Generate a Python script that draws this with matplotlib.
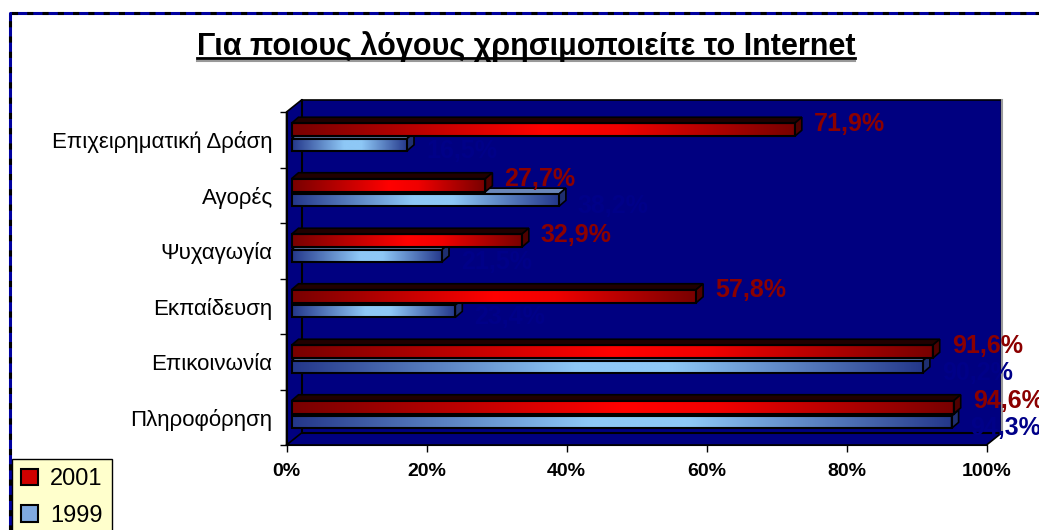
import matplotlib
matplotlib.use('Agg')
import matplotlib.pyplot as plt
import numpy as np
from matplotlib.colors import LinearSegmentedColormap
from matplotlib.patches import Polygon, Patch
from matplotlib.lines import Line2D

plt.rcParams['font.family'] = ['Liberation Sans', 'DejaVu Sans']

categories = ['Επιχειρηματική Δράση', 'Αγορές', 'Ψυχαγωγία',
              'Εκπαίδευση', 'Επικοινωνία', 'Πληροφόρηση']
pct_2001 = [71.9, 27.7, 32.9, 57.8, 91.6, 94.6]
pct_1999 = [16.5, 38.2, 21.5, 23.4, 90.2, 94.3]
x_ticks = [0, 20, 40, 60, 80, 100]
years = ['2001', '1999']

W, H = 1039, 530
fig = plt.figure(figsize=(W / 100, H / 100), dpi=100)

# front edge of the floor / side wall, in pixels
left, right, top, bottom = 286.5, 986.5, 112, 445
ax = fig.add_axes([left / W, 1 - bottom / H, (right - left) / W, (bottom - top) / H])
n = len(categories)
y_lo, y_hi = -0.5, n - 0.5
ax.patch.set_visible(False)

px = 100 / (right - left)   # data units per pixel
py = n / (bottom - top)

# navy walls and floor of the 3d box
wx, wy = 15 * px, 12 * py
wall = Polygon([(0, y_lo), (0, y_hi), (wx, y_hi + wy), (100 + wx, y_hi + wy),
                (100 + wx, y_lo + wy), (100, y_lo)], closed=True,
               facecolor='#000080', edgecolor='black', lw=1.2, zorder=0.5, clip_on=False)
ax.add_patch(wall)
ax.plot([wx, wx, 100 + wx], [y_hi + wy, y_lo + wy, y_lo + wy],
        color='black', lw=1.5, zorder=0.6, clip_on=False)
ax.plot([0, wx], [y_lo, y_lo + wy], color='black', lw=1.2, zorder=0.6, clip_on=False)
ax.plot([100 + wx, 100 + wx], [y_lo + wy, y_hi + wy], color='#9a9a9a', lw=1.5,
        zorder=0.6, clip_on=False)

y = np.arange(n)[::-1]
shift = 5 * px
dx, dy = 7 * px, 6 * py
grad = np.linspace(0, 1, 256)[None, :]

red_cmap = LinearSegmentedColormap.from_list(
    'red3d', [(0, '#780000'), (0.5, '#ff0000'), (0.65, '#f00000'), (1, '#780000')])
blue_cmap = LinearSegmentedColormap.from_list(
    'blue3d', [(0, '#24378a'), (0.45, '#8ec8f6'), (0.6, '#8ec8f6'), (1, '#24378a')])


def bars_3d(values, offset, height, cmap, top_color, side_color, z):
    rects = ax.barh(y + offset, values, height=height, left=shift, facecolor='none',
                    edgecolor='black', lw=1.5, zorder=z + 0.2)
    for r in rects:
        x0, y0 = r.get_x(), r.get_y()
        x1, y1 = x0 + r.get_width(), y0 + r.get_height()
        im = ax.imshow(grad, cmap=cmap, extent=(x0, x1, y0, y1), aspect='auto',
                       interpolation='bicubic', zorder=z)
        im.set_clip_path(r)
        ax.add_patch(Polygon([(x0, y1), (x1, y1), (x1 + dx, y1 + dy), (x0 + dx, y1 + dy)],
                             facecolor=top_color, edgecolor='black', lw=1.2, zorder=z))
        ax.add_patch(Polygon([(x1, y0), (x1, y1), (x1 + dx, y1 + dy), (x1 + dx, y0 + dy)],
                             facecolor=side_color, edgecolor='black', lw=1.2, zorder=z))
    return rects


bars_3d(pct_1999, -0.09, 0.22, blue_cmap, '#6a86b8', '#1f2f70', 3)
bars_3d(pct_2001, 0.18, 0.235, red_cmap, '#200000', '#500000', 4)


def fmt(v):
    return f'{v:.1f}'.replace('.', ',') + '%'


gap = 19 * px
for yi, v in zip(y, pct_2001):
    ax.text(shift + v + gap, yi + 0.29, fmt(v), color='#8b0000', fontsize=18,
            fontweight='bold', ha='left', va='center', zorder=6)
for yi, v in zip(y, pct_1999):
    ax.text(shift + v + gap, yi - 0.2, fmt(v), color='#000088', fontsize=18,
            fontweight='bold', ha='left', va='center', zorder=6)

ax.set_xlim(0, 100)
ax.set_ylim(y_lo, y_hi)
ax.set_xticks(x_ticks, [f'{t}%' for t in x_ticks])
ax.tick_params(axis='x', length=5, width=1, pad=8, labelsize=14)
for lbl in ax.get_xticklabels():
    lbl.set_fontweight('bold')
ax.set_yticks(y, categories)
ax.set_yticks(np.arange(y_lo, y_hi + 0.01), minor=True)
ax.tick_params(axis='y', which='major', length=0, pad=10, labelsize=16)
ax.tick_params(axis='y', which='minor', length=5, width=1)
for s in ['top', 'right']:
    ax.spines[s].set_visible(False)
for s in ['left', 'bottom']:
    ax.spines[s].set_zorder(7)

handles = [Patch(facecolor='#d00000', edgecolor='black', lw=1.5),
           Patch(facecolor='#7fa9e0', edgecolor='black', lw=1.5)]
fig.legend(handles, years, loc='upper left', bbox_to_anchor=(12 / W, 1 - 459 / H),
           frameon=True, fancybox=False, facecolor='#ffffcc', edgecolor='black',
           framealpha=1, fontsize=17, handlelength=0.7, handleheight=0.7,
           handletextpad=0.5, labelspacing=0.6, borderpad=0.4, borderaxespad=0)

title = fig.text(526 / W, 1 - 55 / H, 'Για ποιους λόγους χρησιμοποιείτε το Internet',
                 ha='center', va='baseline', fontsize=22, fontweight='bold')
fig.canvas.draw()
bb = title.get_window_extent()
ul = H - 58
fig.add_artist(Line2D([bb.x0 / W, bb.x1 / W], [(ul - 3) / H] * 2,
                      transform=fig.transFigure, color='#999999', lw=1.5))
fig.add_artist(Line2D([bb.x0 / W, bb.x1 / W], [ul / H] * 2,
                      transform=fig.transFigure, color='black', lw=2))

# dashed frame of the chart area
fx = [10 / W, 10 / W, 1.05]
fy = [-0.05, 1 - 13 / H, 1 - 13 / H]
fig.add_artist(Line2D(fx, fy, transform=fig.transFigure, color='#0000a0', lw=2.2))
fig.add_artist(Line2D(fx, fy, transform=fig.transFigure, color='black', lw=2.2,
                      dashes=(2, 3)))

fig.savefig('out.png', dpi=100)
